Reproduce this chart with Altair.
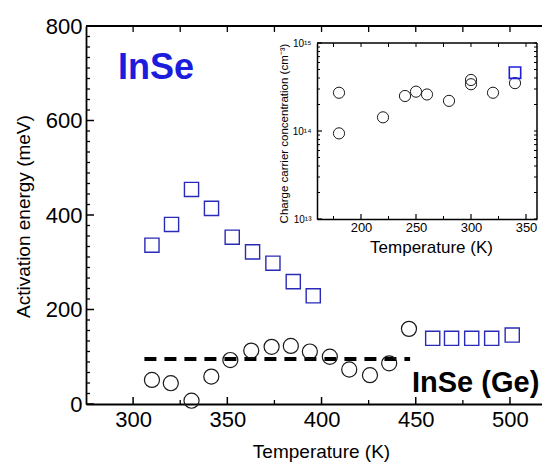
import math
import altair as alt
import pandas as pd

# ---------------- data ----------------
# Main panel, InSe (blue open squares)
insq_temp = [310, 320.4, 331, 341.6, 352.6, 363.4, 374.2, 385, 395.6, 459, 469, 479.7, 490.3, 501.2]
insq_energy = [336, 380, 454, 414, 353, 322, 298, 259, 229, 139, 139, 139, 139, 146]
# Main panel, InSe (Ge) (black open circles)
ge_temp = [310, 320, 331, 341.5, 351.6, 362.7, 373.5, 383.7, 393.8, 404.4, 414.7, 425.7, 435.9, 446.4]
ge_energy = [51, 44, 7, 58, 93, 113, 121, 123, 111, 100, 73, 61, 86, 159]
# dashed mean level
avg_temp = [306]
avg_temp_end = [447]
avg_energy = [95]

# Inset: charge carrier concentration
inset_ci_temp = [180, 180, 220, 240, 250, 260, 280, 300, 300, 320, 340]
inset_ci_conc = [2.72e14, 9.4e13, 1.43e14, 2.5e14, 2.8e14, 2.6e14, 2.2e14, 3.8e14, 3.4e14, 2.72e14, 3.5e14]
inset_sq_temp = [340]
inset_sq_conc = [4.6e14]

# tick labels / axis values
x_major = [300, 350, 400, 450, 500]
x_minor = [325, 375, 425, 475]
y_major = [0, 200, 400, 600, 800]
y_minor = [round(200 * k / 9, 3) for k in range(1, 36) if k % 9 != 0]
ix_major = [200, 250, 300, 350]
ix_minor = [175, 225, 275, 325]
iy_major = [1e13, 1e14, 1e15]
iy_minor = [m * 10 ** e for e in (13, 14) for m in range(2, 10)]

labels_main = ["InSe"]
labels_ge = ["InSe (Ge)"]

# ---------------- layout ----------------
W, H = 456, 378
X_DOM = [275, 517]
Y_DOM = [0, 800]
IX_DOM = [160, 360]
IX_RANGE = [231, 451]
IY_DOM = [1e13, 1e15]
IY_RANGE = [193, 17]
IB, IT = IY_RANGE
IL, IR = IX_RANGE
FONT = "Liberation Sans"
INK = "black"

# pixel -> data-unit factors (to give tick marks a fixed pixel length)
KX = (X_DOM[1] - X_DOM[0]) / W
KY = (Y_DOM[1] - Y_DOM[0]) / H
IKX = (IX_DOM[1] - IX_DOM[0]) / (IR - IL)
IKY = math.log10(IY_DOM[1] / IY_DOM[0]) / (IB - IT)

sq_df = pd.DataFrame({"T": insq_temp, "E": insq_energy})
ge_df = pd.DataFrame({"T": ge_temp, "E": ge_energy})
avg_df = pd.DataFrame({"T": avg_temp, "T2": avg_temp_end, "E": avg_energy})
ici_df = pd.DataFrame({"T": inset_ci_temp, "N": inset_ci_conc})
isq_df = pd.DataFrame({"T": inset_sq_temp, "N": inset_sq_conc})


def mx(axis=None):
    return alt.X("T:Q", scale=alt.Scale(domain=X_DOM, nice=False, zero=False), axis=axis)


def my(axis=None):
    return alt.Y("E:Q", scale=alt.Scale(domain=Y_DOM, nice=False, zero=False), axis=axis)


def ix(axis=None):
    return alt.X("T:Q", scale=alt.Scale(domain=IX_DOM, range=IX_RANGE, nice=False, zero=False), axis=axis)


def iy(axis=None):
    return alt.Y("N:Q", scale=alt.Scale(type="log", domain=IY_DOM, range=IY_RANGE, nice=False), axis=axis)


common = dict(grid=False, labelOverlap=False, labelFlush=False, labelBound=False,
              domainColor=INK, labelColor=INK, titleColor=INK,
              labelFont=FONT, titleFont=FONT, titleFontWeight="normal")

ax_bottom = alt.Axis(orient="bottom", values=x_major, ticks=False, labelPadding=5,
                     labelFontSize=22, domainWidth=1.8, format="d",
                     title="Temperature (K)", titleFontSize=19, titleX=235, titleY=47,
                     titleAlign="center", titleBaseline="middle", **common)
ax_left = alt.Axis(orient="left", values=y_major, ticks=False, labelPadding=4,
                   labelFontSize=22, domainWidth=1.8, format="d",
                   title="Activation energy (meV)", titleFontSize=19, titleX=-63, titleY=190,
                   titleAngle=270, titleAlign="center", titleBaseline="middle", **common)
iax_bottom = alt.Axis(orient="bottom", offset=-(H - IB), values=ix_major, ticks=False,
                      labelPadding=2, labelFontSize=13, domainWidth=1.5, format="d",
                      title="Temperature (K)", titleFontSize=17, titleX=345, titleY=28,
                      titleAlign="center", titleBaseline="middle", **common)
iax_left = alt.Axis(orient="left", offset=-IL, values=iy_major, ticks=False,
                    labelPadding=6, labelFontSize=10, domainWidth=1.5,
                    labelExpr="round(log(datum.value)/LN10) == 13 ? '10¹³' : round(log(datum.value)/LN10) == 14 ? '10¹⁴' : '10¹⁵'",
                    title="Charge carrier concentration (cm⁻³)", titleFontSize=11.5, titleX=-33, titleY=107,
                    titleAngle=270, titleAlign="center", titleBaseline="middle", **common)


# ---- tick marks and frame lines drawn as field-encoded rules ----
def vrules(xs, y0, y1, xenc, yenc, yfield, width):
    df = pd.DataFrame({"T": xs, yfield: [y0] * len(xs), yfield + "2": [y1] * len(xs)})
    return alt.Chart(df).mark_rule(color=INK, strokeWidth=width).encode(
        x=xenc(None), y=yenc(None), y2=f"{yfield}2:Q")


def hrules(ys, x0, x1, xenc, yenc, yfield, width):
    df = pd.DataFrame({"T": [x0] * len(ys), "T2": [x1] * len(ys), yfield: ys})
    return alt.Chart(df).mark_rule(color=INK, strokeWidth=width).encode(
        x=xenc(None), x2="T2:Q", y=yenc(None))


ghost = dict(opacity=0)


def iy_len(base, px, sgn):
    return base * 10 ** (sgn * px * IKY)


layers = [
    # main axes (labels, left and bottom lines)
    alt.Chart(sq_df).mark_point(**ghost).encode(x=mx(ax_bottom), y=my(ax_left)),
    # main top border
    hrules([Y_DOM[1]], X_DOM[0], X_DOM[1], mx, my, "E", 1.8),
    # main inward ticks
    vrules(x_major, Y_DOM[0], Y_DOM[0] + 7 * KY, mx, my, "E", 1.5),
    vrules(x_minor, Y_DOM[0], Y_DOM[0] + 4 * KY, mx, my, "E", 1.3),
    vrules(x_major + x_minor, Y_DOM[1], Y_DOM[1] - 6 * KY, mx, my, "E", 1.3),
    hrules(y_major, X_DOM[0], X_DOM[0] + 8 * KX, mx, my, "E", 1.5),
    hrules(y_minor, X_DOM[0], X_DOM[0] + 4 * KX, mx, my, "E", 1.3),
    # main data
    alt.Chart(avg_df).mark_rule(color=INK, strokeWidth=4, strokeDash=[12, 8]).encode(
        x=mx(None), x2="T2:Q", y=my(None)),
    alt.Chart(ge_df).mark_point(shape="circle", filled=False, size=227, color="#1a1a1a",
                                strokeWidth=1.2, opacity=1).encode(x=mx(None), y=my(None)),
    alt.Chart(sq_df).mark_point(shape="square", filled=False, size=200, color="#2a2ab8",
                                strokeWidth=1.4, opacity=1).encode(x=mx(None), y=my(None)),
    # annotations
    alt.Chart(pd.DataFrame({"label": labels_main})).mark_text(
        font=FONT, fontSize=36, fontWeight="bold", color="#1c1cdc", align="left", baseline="alphabetic"
    ).encode(x=alt.value(32), y=alt.value(53), text="label:N"),
    alt.Chart(pd.DataFrame({"label": labels_ge})).mark_text(
        font=FONT, fontSize=29, fontWeight="bold", color="#000000", align="left", baseline="alphabetic"
    ).encode(x=alt.value(326), y=alt.value(366), text="label:N"),
    # inset axes (labels, left and bottom lines)
    alt.Chart(ici_df).mark_point(**ghost).encode(x=ix(iax_bottom), y=iy(iax_left)),
    # inset top and right border
    hrules([IY_DOM[1]], IX_DOM[0], IX_DOM[1], ix, iy, "N", 1.5),
    vrules([IX_DOM[1]], IY_DOM[0], IY_DOM[1], ix, iy, "N", 1.5),
    # inset inward ticks
    vrules(ix_major, IY_DOM[0], iy_len(IY_DOM[0], 5, 1), ix, iy, "N", 1.2),
    vrules(ix_minor, IY_DOM[0], iy_len(IY_DOM[0], 3, 1), ix, iy, "N", 1.0),
    vrules(ix_major + ix_minor, IY_DOM[1], iy_len(IY_DOM[1], 4, -1), ix, iy, "N", 1.0),
    hrules(iy_major, IX_DOM[0], IX_DOM[0] + 5 * IKX, ix, iy, "N", 1.2),
    hrules(iy_minor, IX_DOM[0], IX_DOM[0] + 3 * IKX, ix, iy, "N", 1.0),
    hrules(iy_major + iy_minor, IX_DOM[1], IX_DOM[1] - 3 * IKX, ix, iy, "N", 1.0),
    # inset data
    alt.Chart(ici_df).mark_point(shape="circle", filled=False, size=125, color="#1a1a1a",
                                 strokeWidth=1.0, opacity=1).encode(x=ix(None), y=iy(None)),
    alt.Chart(isq_df).mark_point(shape="square", filled=False, size=130, color="#1f1fe0",
                                 strokeWidth=1.6, opacity=1).encode(x=ix(None), y=iy(None)),
]

chart = (
    alt.layer(*layers)
    .resolve_scale(x="independent", y="independent")
    .resolve_axis(x="independent", y="independent")
    .properties(width=W, height=H, autosize=alt.AutoSizeParams(type="none"),
                padding={"left": 78, "top": 18, "right": 0, "bottom": 59})
    .configure_view(stroke=None)
)

chart.save("out.html", embed_options={"renderer": "svg", "actions": False})
